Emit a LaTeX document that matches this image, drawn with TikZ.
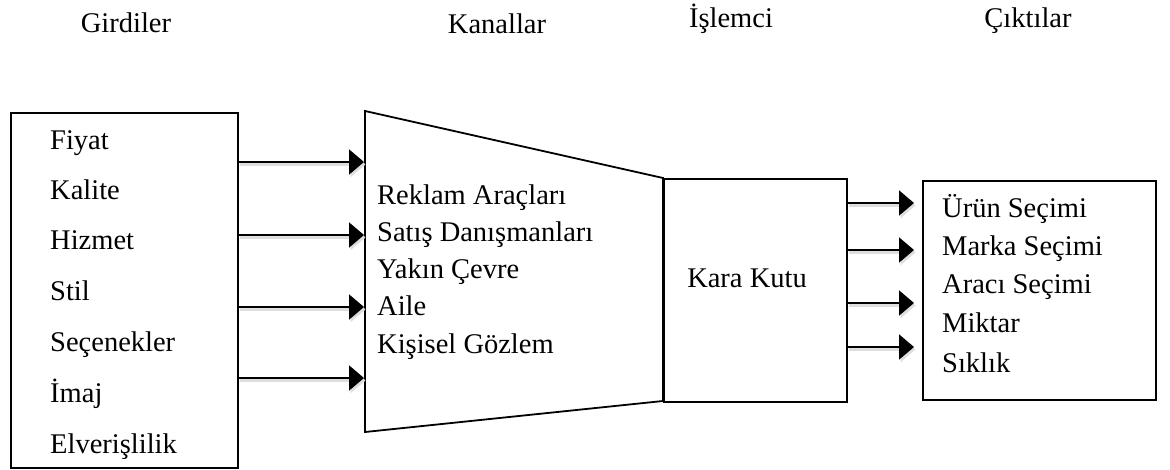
\documentclass[tikz,border=0pt]{standalone}
\usepackage{fontspec}
\setmainfont{Liberation Serif}
\usetikzlibrary{arrows.meta}
\begin{document}
\begin{tikzpicture}[x=1pt,y=-1pt,
  frame/.style={draw, line width=1.8pt, inner sep=0pt},
  lbl/.style={anchor=base west, inner sep=0pt, font=\fontsize{28.5}{34}\selectfont},
  ttl/.style={anchor=base, inner sep=0pt, font=\fontsize{28.5}{34}\selectfont},
  flow/.style={line width=2pt, -{Triangle[length=15pt,width=25pt]}},
  flowshade/.style={draw=black!13, line width=3pt, -{Triangle[length=15pt,width=25pt]}},
]
\useasboundingbox (0,0) rectangle (1170,470);

% column headings
\node[ttl] (hin)  at (126,33) {Girdiler};
\node[ttl] (hkan) at (497,34) {Kanallar};
\node[ttl] (hisl) at (731,28) {İşlemci};
\node[ttl] (hcik) at (1028,28) {Çıktılar};

% inputs box
\node[frame, minimum width=227pt, minimum height=355pt, anchor=north west] (inbox) at (10,112) {};
\node[lbl] (i1) at (50,150) {Fiyat};
\node[lbl] (i2) at (50,200) {Kalite};
\node[lbl] (i3) at (50,250) {Hizmet};
\node[lbl] (i4) at (50,301) {Stil};
\node[lbl] (i5) at (50,351) {Seçenekler};
\node[lbl] (i6) at (50,402) {İmaj};
\node[lbl] (i7) at (50,453) {Elverişlilik};

% channels funnel
\coordinate (f1) at (365,111);
\coordinate (f2) at (663,178);
\coordinate (f3) at (663,401);
\coordinate (f4) at (365,432);
\draw[line width=1.8pt, line join=miter] (f1) -- (f2) -- (f3) -- (f4) -- cycle;
\node[lbl] (k1) at (377,205) {Reklam Araçları};
\node[lbl] (k2) at (377,242) {Satış Danışmanları};
\node[lbl] (k3) at (377,279) {Yakın Çevre};
\node[lbl] (k4) at (377,316) {Aile};
\node[lbl] (k5) at (377,353) {Kişisel Gözlem};

% black box
\node[frame, minimum width=183pt, minimum height=223pt, anchor=north west] (kutu) at (663,178) {};
\node[ttl] (kututxt) at (747,288) {Kara Kutu};

% outputs box
\node[frame, minimum width=233pt, minimum height=219pt, anchor=north west] (outbox) at (922,180) {};
\node[lbl] (o1) at (942,218) {Ürün Seçimi};
\node[lbl] (o2) at (942,256) {Marka Seçimi};
\node[lbl] (o3) at (942,294) {Aracı Seçimi};
\node[lbl] (o4) at (942,333) {Miktar};
\node[lbl] (o5) at (942,372) {Sıklık};

% arrows into the funnel, each with a soft shadow below
\foreach \yy in {162,235,307,378} {
  \draw[flowshade] ([xshift=1.5pt,yshift=-2.5pt]inbox.east |- 0,\yy) -- ([xshift=0.5pt,yshift=-2.5pt]f1 |- 0,\yy);
  \draw[flow] (inbox.east |- 0,\yy) -- ([xshift=-1pt]f1 |- 0,\yy);
}

% arrows out of the black box
\foreach \yy in {203,250,303,347} {
  \draw[flowshade] ([xshift=1.5pt,yshift=-2.5pt]kutu.east |- 0,\yy) -- ([xshift=-6.5pt,yshift=-2.5pt]outbox.west |- 0,\yy);
  \draw[flow] (kutu.east |- 0,\yy) -- ([xshift=-8pt]outbox.west |- 0,\yy);
}
\end{tikzpicture}
\end{document}
